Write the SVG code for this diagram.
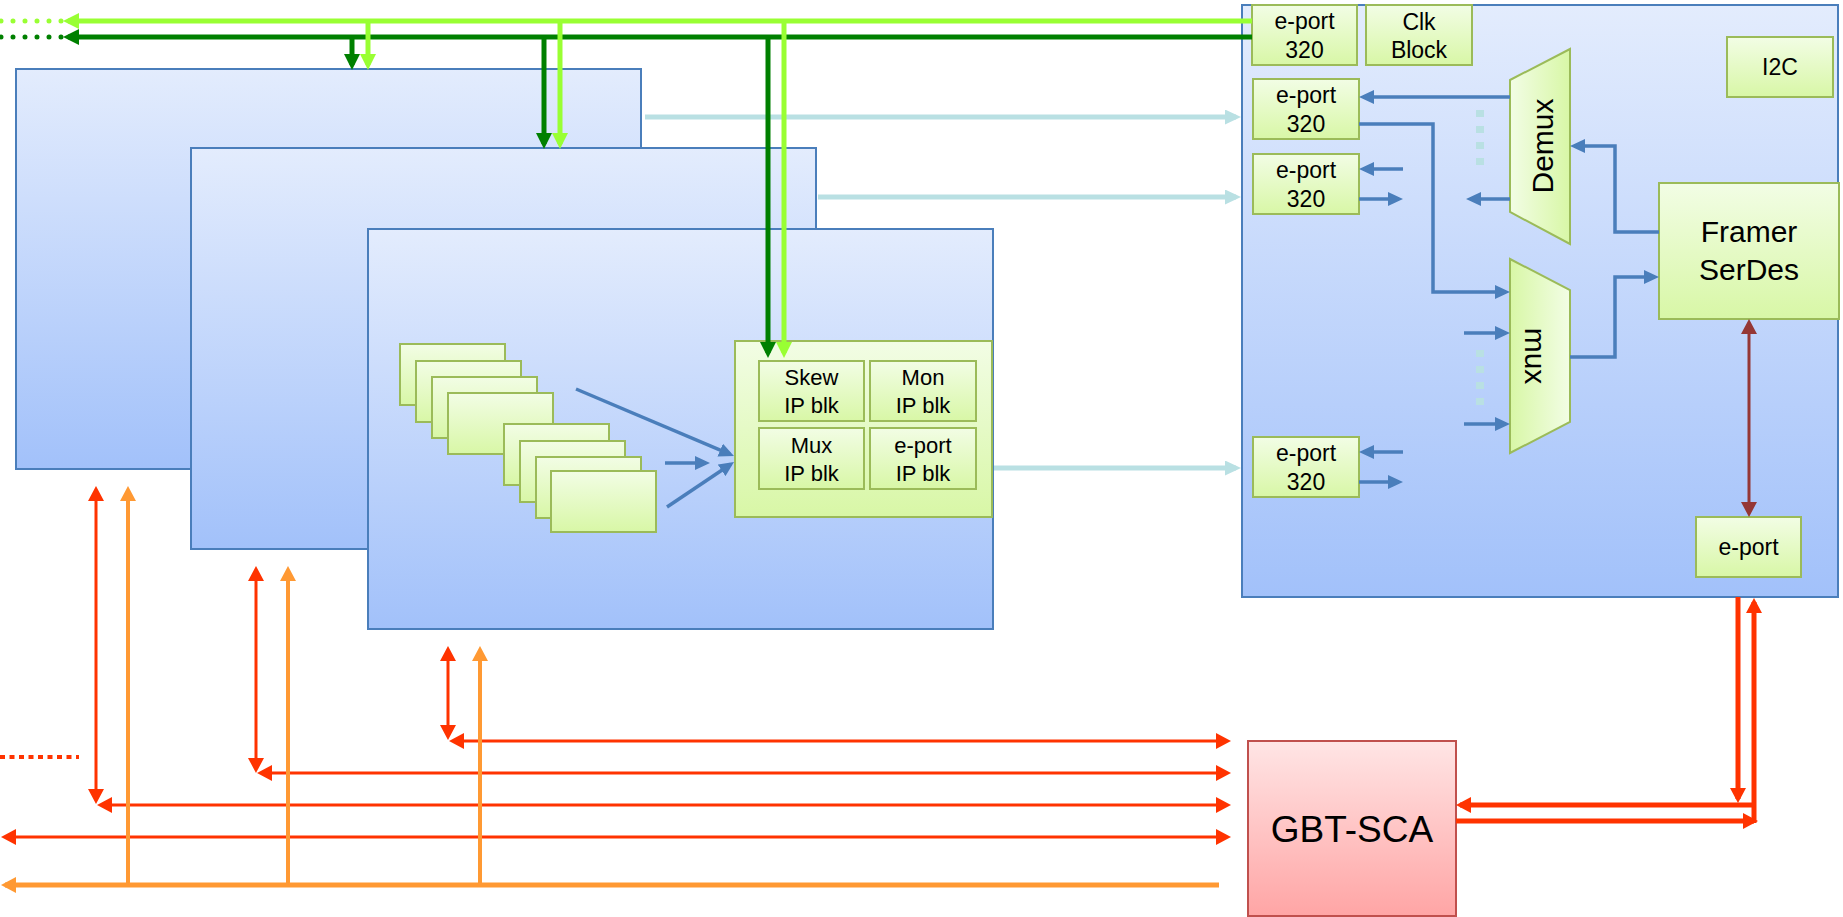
<svg xmlns="http://www.w3.org/2000/svg" width="1843" height="917" viewBox="0 0 1843 917">
<defs>
<linearGradient id="gBlue" x1="0" y1="0" x2="0" y2="1"><stop offset="0" stop-color="#e3ecfd"/><stop offset="1" stop-color="#a2c1fa"/></linearGradient>
<linearGradient id="gGreen" x1="0" y1="0" x2="0" y2="1"><stop offset="0" stop-color="#f2fde5"/><stop offset="1" stop-color="#d8f7a6"/></linearGradient>
<linearGradient id="gGreenL" x1="0" y1="0" x2="1" y2="0"><stop offset="0" stop-color="#f2fde5"/><stop offset="1" stop-color="#d8f7a6"/></linearGradient>
<linearGradient id="gGreenR" x1="1" y1="0" x2="0" y2="0"><stop offset="0" stop-color="#f2fde5"/><stop offset="1" stop-color="#d8f7a6"/></linearGradient>
<linearGradient id="gPink" x1="0" y1="0" x2="0" y2="1"><stop offset="0" stop-color="#ffe5e5"/><stop offset="1" stop-color="#ffa5a5"/></linearGradient>
<marker id="mLg" markerUnits="userSpaceOnUse" markerWidth="16" markerHeight="16" refX="11" refY="8" orient="auto-start-reverse"><path d="M0,0L16,8L0,16z" fill="#99ff33"/></marker>
<marker id="mDg" markerUnits="userSpaceOnUse" markerWidth="16" markerHeight="16" refX="11" refY="8" orient="auto-start-reverse"><path d="M0,0L16,8L0,16z" fill="#008000"/></marker>
<marker id="mCy" markerUnits="userSpaceOnUse" markerWidth="16" markerHeight="15" refX="11" refY="7.5" orient="auto-start-reverse"><path d="M0,0L16,7.5L0,15z" fill="#b9e0e3"/></marker>
<marker id="mBl" markerUnits="userSpaceOnUse" markerWidth="15" markerHeight="14" refX="11" refY="7" orient="auto-start-reverse"><path d="M0,0L15,7L0,14z" fill="#4a7ebb"/></marker>
<marker id="mRd" markerUnits="userSpaceOnUse" markerWidth="15" markerHeight="16" refX="11" refY="8" orient="auto-start-reverse"><path d="M0,0L15,8L0,16z" fill="#ff3300"/></marker>
<marker id="mOr" markerUnits="userSpaceOnUse" markerWidth="15" markerHeight="16" refX="11" refY="8" orient="auto-start-reverse"><path d="M0,0L15,8L0,16z" fill="#ff9933"/></marker>
<marker id="mBr" markerUnits="userSpaceOnUse" markerWidth="15" markerHeight="16" refX="11" refY="8" orient="auto-start-reverse"><path d="M0,0L15,8L0,16z" fill="#953735"/></marker>
</defs>
<style>
.blue{fill:url(#gBlue);stroke:#4a7ebb;stroke-width:2}
.grn{fill:url(#gGreen);stroke:#9bbb59;stroke-width:2}
.pink{fill:url(#gPink);stroke:#c0504d;stroke-width:2}
text{font-family:"Liberation Sans",Arial,Helvetica,sans-serif;fill:#000;text-anchor:middle}
.t23{font-size:23px}
.t22{font-size:22px}
.t30{font-size:30px}
.t37{font-size:37px}
.ln{fill:none}
.lg{stroke:#99ff33;stroke-width:5}
.dg{stroke:#008000;stroke-width:5}
.cy{stroke:#b9e0e3;stroke-width:5}
.bl{stroke:#4a7ebb;stroke-width:3.5}
.rd{stroke:#ff3300;stroke-width:3}
.rdw{stroke:#ff3300;stroke-width:5}
.or{stroke:#ff9933;stroke-width:4}
.orw{stroke:#ff9933;stroke-width:5}
.br{stroke:#953735;stroke-width:3}
</style>

<g id="board1"><rect class="blue" x="16" y="69" width="625" height="400"/></g>
<g id="board2"><rect class="blue" x="191" y="148" width="625" height="401"/></g>
<g id="board3">
<rect class="blue" x="368" y="229" width="625" height="400"/>
<rect class="grn" x="400" y="344" width="105" height="61"/>
<rect class="grn" x="416" y="361" width="105" height="61"/>
<rect class="grn" x="432" y="377" width="105" height="61"/>
<rect class="grn" x="448" y="393" width="105" height="61"/>
<rect class="grn" x="504" y="424" width="105" height="61"/>
<rect class="grn" x="520" y="441" width="105" height="61"/>
<rect class="grn" x="536" y="457" width="105" height="61"/>
<rect class="grn" x="551" y="471" width="105" height="61"/>
</g>
<g id="ipblock">
<rect class="grn" x="735" y="341" width="257" height="176"/>
</g>
<g id="skew"><rect class="grn" x="759" y="361" width="105" height="60"/><text class="t22" x="811.5" y="385">Skew</text><text class="t22" x="811.5" y="413">IP blk</text></g>
<g id="mon"><rect class="grn" x="870" y="361" width="106" height="60"/><text class="t22" x="923" y="385">Mon</text><text class="t22" x="923" y="413">IP blk</text></g>
<g id="muxip"><rect class="grn" x="759" y="428" width="105" height="61"/><text class="t22" x="811.5" y="453">Mux</text><text class="t22" x="811.5" y="481">IP blk</text></g>
<g id="eportip"><rect class="grn" x="870" y="428" width="106" height="61"/><text class="t22" x="923" y="453">e-port</text><text class="t22" x="923" y="481">IP blk</text></g>

<g id="gbtx"><rect class="blue" x="1242" y="5" width="596" height="592"/></g>
<g id="eport1"><rect class="grn" x="1252" y="5" width="105" height="60"/><text class="t23" x="1304.5" y="29">e-port</text><text class="t23" x="1304.5" y="58">320</text></g>
<g id="clk"><rect class="grn" x="1366" y="5" width="106" height="60"/><text class="t23" x="1419" y="30">Clk</text><text class="t23" x="1419" y="58">Block</text></g>
<g id="i2c"><rect class="grn" x="1727" y="37" width="106" height="60"/><text class="t23" x="1780" y="75">I2C</text></g>
<g id="eport2"><rect class="grn" x="1253" y="79" width="106" height="60"/><text class="t23" x="1306" y="103">e-port</text><text class="t23" x="1306" y="132">320</text></g>
<g id="eport3"><rect class="grn" x="1253" y="154" width="106" height="60"/><text class="t23" x="1306" y="178">e-port</text><text class="t23" x="1306" y="207">320</text></g>
<g id="eport4"><rect class="grn" x="1253" y="437" width="106" height="60"/><text class="t23" x="1306" y="461">e-port</text><text class="t23" x="1306" y="490">320</text></g>
<g id="demux"><polygon points="1510,80 1570,49 1570,244 1510,212" fill="url(#gGreenL)" stroke="#9bbb59" stroke-width="2"/><text class="t30" transform="translate(1553,146) rotate(-90)">Demux</text></g>
<g id="mux"><polygon points="1510,259 1570,290 1570,422 1510,453" fill="url(#gGreenR)" stroke="#9bbb59" stroke-width="2"/><text class="t30" transform="translate(1525,356) rotate(90)">mux</text></g>
<g id="framer"><rect class="grn" x="1659" y="183" width="180" height="136"/><text class="t30" x="1749" y="242">Framer</text><text class="t30" x="1749" y="280">SerDes</text></g>
<g id="eport5"><rect class="grn" x="1696" y="517" width="105" height="60"/><text class="t23" x="1748.5" y="555">e-port</text></g>
<g id="gbtsca"><rect class="pink" x="1248" y="741" width="208" height="175"/><text class="t37" x="1352" y="842">GBT-SCA</text></g>

<g id="connectors" class="ln">
<line class="cy" x1="645" y1="117" x2="1236" y2="117" marker-end="url(#mCy)"/>
<line class="cy" x1="818" y1="197" x2="1236" y2="197" marker-end="url(#mCy)"/>
<line class="cy" x1="994" y1="468" x2="1236" y2="468" marker-end="url(#mCy)"/>

<line class="dg" x1="1252" y1="37" x2="68" y2="37" marker-end="url(#mDg)"/>
<line class="lg" x1="1252" y1="21" x2="68" y2="21" marker-end="url(#mLg)"/>
<line x1="1" y1="21" x2="62" y2="21" stroke="#99ff33" stroke-width="5" stroke-linecap="round" stroke-dasharray="0 12"/>
<line x1="1" y1="37" x2="62" y2="37" stroke="#008000" stroke-width="5" stroke-linecap="round" stroke-dasharray="0 12"/>
<line class="dg" x1="352" y1="37" x2="352" y2="65" marker-end="url(#mDg)"/>
<line class="lg" x1="368" y1="21" x2="368" y2="65" marker-end="url(#mLg)"/>
<line class="dg" x1="544" y1="37" x2="544" y2="144" marker-end="url(#mDg)"/>
<line class="lg" x1="560" y1="21" x2="560" y2="144" marker-end="url(#mLg)"/>
<line class="dg" x1="768" y1="37" x2="768" y2="353" marker-end="url(#mDg)"/>
<line class="lg" x1="784" y1="21" x2="784" y2="353" marker-end="url(#mLg)"/>

<line class="bl" x1="576" y1="389" x2="730.3" y2="454.4" marker-end="url(#mBl)"/>
<line class="bl" x1="665" y1="463" x2="706" y2="463" marker-end="url(#mBl)"/>
<line class="bl" x1="667" y1="507" x2="730.7" y2="464.2" marker-end="url(#mBl)"/>

<path class="bl" d="M1510,97H1363" marker-end="url(#mBl)"/>
<path class="bl" d="M1359,124H1433V292H1506" marker-end="url(#mBl)"/>
<path class="bl" d="M1403,169H1363" marker-end="url(#mBl)"/>
<path class="bl" d="M1359,199H1399" marker-end="url(#mBl)"/>
<path class="bl" d="M1510,199H1470" marker-end="url(#mBl)"/>
<path class="bl" d="M1659,232H1615V146H1574" marker-end="url(#mBl)"/>
<path class="bl" d="M1570,357H1615V277H1655" marker-end="url(#mBl)"/>
<path class="bl" d="M1464,333H1506" marker-end="url(#mBl)"/>
<path class="bl" d="M1464,424H1506" marker-end="url(#mBl)"/>
<path class="bl" d="M1403,452H1363" marker-end="url(#mBl)"/>
<path class="bl" d="M1359,482H1399" marker-end="url(#mBl)"/>
<line x1="1480" y1="110" x2="1480" y2="165" stroke="#b9e0e3" stroke-width="8" stroke-dasharray="7 9"/>
<line x1="1480" y1="350" x2="1480" y2="405" stroke="#b9e0e3" stroke-width="8" stroke-dasharray="7 9"/>
<line class="br" x1="1749" y1="323" x2="1749" y2="513" marker-start="url(#mBr)" marker-end="url(#mBr)"/>

<line class="rd" x1="96" y1="490" x2="96" y2="800" marker-start="url(#mRd)" marker-end="url(#mRd)"/>
<line class="rd" x1="101" y1="805" x2="1227" y2="805" marker-start="url(#mRd)" marker-end="url(#mRd)"/>
<line class="rd" x1="256" y1="570" x2="256" y2="769" marker-start="url(#mRd)" marker-end="url(#mRd)"/>
<line class="rd" x1="261" y1="773" x2="1227" y2="773" marker-start="url(#mRd)" marker-end="url(#mRd)"/>
<line class="rd" x1="448" y1="650" x2="448" y2="736" marker-start="url(#mRd)" marker-end="url(#mRd)"/>
<line class="rd" x1="453" y1="741" x2="1227" y2="741" marker-start="url(#mRd)" marker-end="url(#mRd)"/>
<line class="rd" x1="5" y1="837" x2="1227" y2="837" marker-start="url(#mRd)" marker-end="url(#mRd)"/>
<line x1="0" y1="757" x2="79" y2="757" stroke="#ff3300" stroke-width="4" stroke-dasharray="5 4.5"/>

<line class="or" x1="128" y1="885" x2="128" y2="490" marker-end="url(#mOr)"/>
<line class="or" x1="288" y1="885" x2="288" y2="570" marker-end="url(#mOr)"/>
<line class="or" x1="480" y1="885" x2="480" y2="650" marker-end="url(#mOr)"/>
<line class="orw" x1="1219" y1="885" x2="5" y2="885" marker-end="url(#mOr)"/>

<line class="rdw" x1="1738" y1="597" x2="1738" y2="799" marker-end="url(#mRd)"/>
<line class="rdw" x1="1754" y1="823" x2="1754" y2="602" marker-end="url(#mRd)"/>
<line class="rdw" x1="1756" y1="805" x2="1460" y2="805" marker-end="url(#mRd)"/>
<line class="rdw" x1="1456" y1="821" x2="1754" y2="821" marker-end="url(#mRd)"/>
</g>
</svg>
